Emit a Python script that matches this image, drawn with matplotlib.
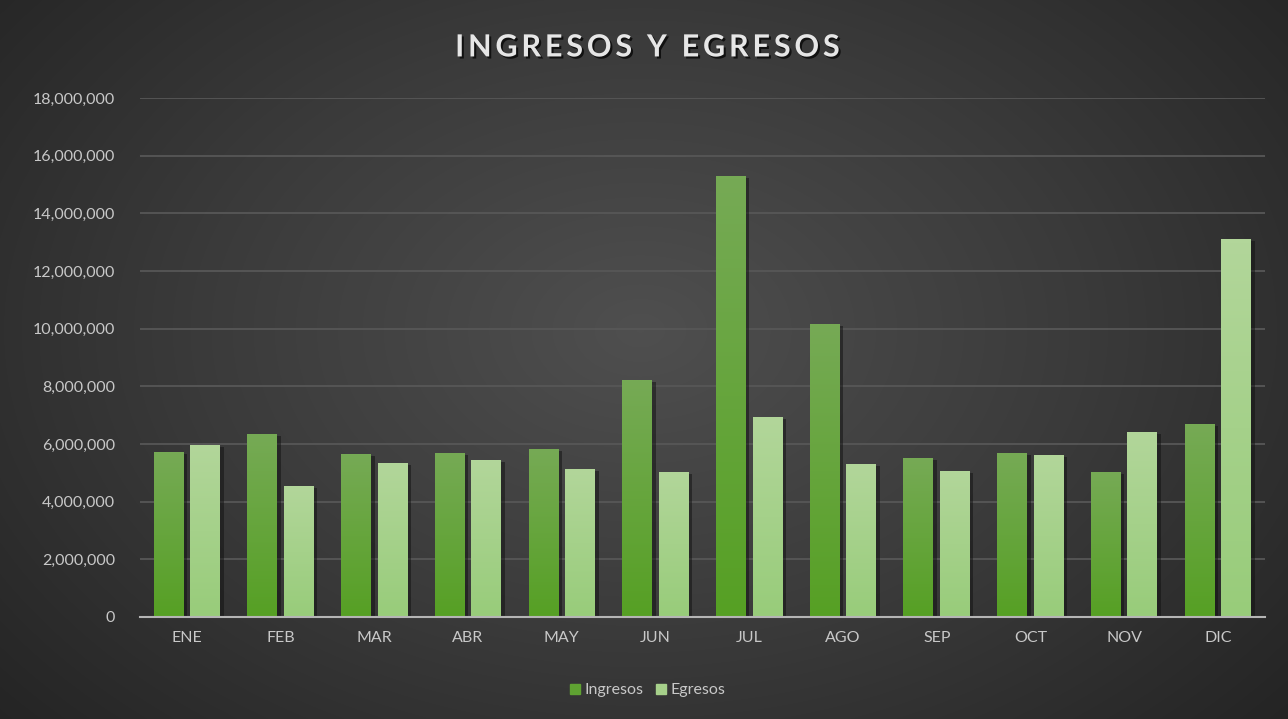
import numpy as np
import matplotlib
matplotlib.use("Agg")
import matplotlib.pyplot as plt
import matplotlib.patheffects as pe
from matplotlib.colors import LinearSegmentedColormap
from matplotlib.ticker import FuncFormatter

plt.rcParams['font.family'] = ['Lato', 'DejaVu Sans']

meses = ['ENE', 'FEB', 'MAR', 'ABR', 'MAY', 'JUN', 'JUL', 'AGO', 'SEP', 'OCT', 'NOV', 'DIC']
ingresos = [5720000, 6350000, 5650000, 5690000, 5830000, 8220000,
            15300000, 10160000, 5510000, 5690000, 5030000, 6690000]
egresos = [5970000, 4540000, 5340000, 5440000, 5130000, 5030000,
           6940000, 5310000, 5060000, 5620000, 6420000, 13110000]

fig = plt.figure(figsize=(12.88, 7.19), dpi=100)

# fondo con degradado radial
bg = fig.add_axes([0, 0, 1, 1], zorder=-10)
yy, xx = np.mgrid[0:719, 0:1288]
r = np.sqrt(((xx - 640) / 900.0) ** 2 + ((yy - 330) / 620.0) ** 2)
r = np.clip(r, 0, 1)
bg_cmap = LinearSegmentedColormap.from_list('bg', ['#4f4f4f', '#3a3a3a', '#222222'])
bg.imshow(r, cmap=bg_cmap, aspect='auto', vmin=0, vmax=1)
bg.axis('off')

ax = fig.add_axes([0.1087, 0.1419, 0.8733, 0.7218])
ax.patch.set_alpha(0)

x = np.arange(len(meses))
w = 0.32
off = 0.195

shadow = [pe.SimplePatchShadow(offset=(2.5, -1.5), shadow_rgbFace='#111111', alpha=0.5), pe.Normal()]
b1 = ax.bar(x - off, ingresos, w, color='#62a33a', zorder=3, label='Ingresos', path_effects=shadow)
b2 = ax.bar(x + off, egresos, w, color='#a6d08a', zorder=3, label='Egresos', path_effects=shadow)

# degradado vertical en cada barra
grad = np.linspace(0, 1, 100).reshape(-1, 1)
cm1 = LinearSegmentedColormap.from_list('g1', ['#56a024', '#76aa55'])
cm2 = LinearSegmentedColormap.from_list('g2', ['#98cc7a', '#b2d69a'])
for bars, cm in ((b1, cm1), (b2, cm2)):
    for b in bars:
        x0, y0 = b.get_x(), b.get_y()
        im = ax.imshow(grad, cmap=cm, origin='lower', aspect='auto',
                       extent=(x0, x0 + b.get_width(), y0, y0 + b.get_height()), zorder=4)
        im.set_clip_path(b)

ax.set_xlim(-0.5, len(meses) - 0.5)
ax.set_ylim(0, 18000000)
ax.set_yticks(np.arange(0, 18000001, 2000000))
ax.yaxis.set_major_formatter(FuncFormatter(lambda v, p: f'{int(v):,}'))
ax.set_xticks(x)
ax.set_xticklabels(meses)
ax.grid(axis='y', color='#575757', linewidth=1.3, zorder=0)
ax.set_axisbelow(True)
for s in ['top', 'right', 'left']:
    ax.spines[s].set_visible(False)
ax.spines['bottom'].set_color('#b5b5b5')
ax.spines['bottom'].set_linewidth(1.5)
ax.spines['bottom'].set_zorder(5)
ax.tick_params(axis='both', length=0, colors='#c8c8c8', labelsize=11.5)
ax.tick_params(axis='x', pad=10)
ax.tick_params(axis='y', pad=18)

fig.text(0.503, 0.934, 'I N G R E S O S   Y   E G R E S O S'.replace(' ', '\u2009').replace('\u2009\u2009\u2009', '  '),
         ha='center', va='center', fontsize=22,
         fontweight='bold', color='#e6e6e6',
         path_effects=[pe.withSimplePatchShadow(offset=(1.5, -1.5), shadow_rgbFace='#000000', alpha=0.7)])

h1 = plt.Rectangle((0, 0), 1, 1, color='#5fa232')
h2 = plt.Rectangle((0, 0), 1, 1, color='#a6d08a')
leg = fig.legend([h1, h2], ['Ingresos', 'Egresos'], loc='center', bbox_to_anchor=(0.503, 0.04),
                 ncol=2, frameon=False, fontsize=11.5, handlelength=0.6, handleheight=0.6,
                 handletextpad=0.3, columnspacing=0.8)
for t in leg.get_texts():
    t.set_color('#c8c8c8')

fig.savefig('out.png', dpi=100)
